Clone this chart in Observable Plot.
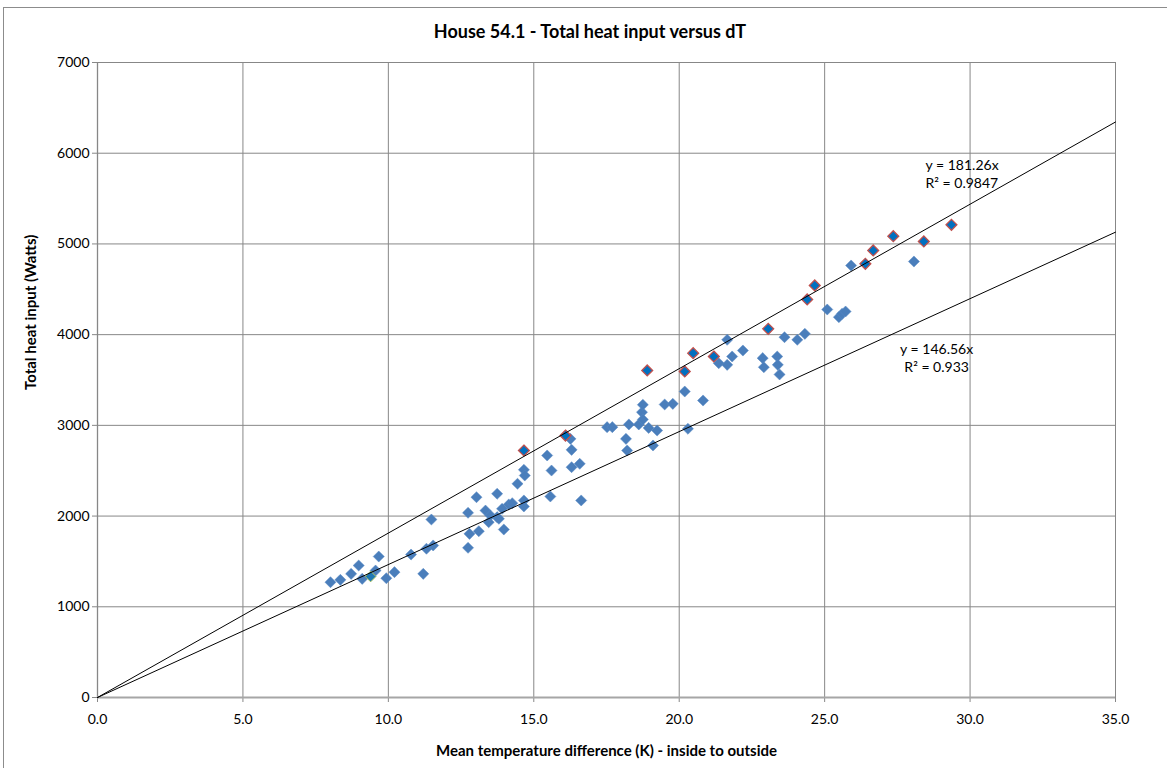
<!DOCTYPE html>
<html>
<head>
<meta charset="utf-8">
<script src="https://cdn.jsdelivr.net/npm/d3@7"></script>
<script src="https://cdn.jsdelivr.net/npm/@observablehq/plot@0.6"></script>
<style>
  html, body { margin: 0; padding: 0; background: #fff; overflow: hidden; }
  #wrap { position: relative; width: 1167px; height: 768px; overflow: hidden; background: #fff; }
  #title { width: 1180px; height: 45px; box-sizing: border-box; padding-top: 20px; line-height: 22px;
           text-align: center; font: bold 18px Lato, "Open Sans", sans-serif; color: #000; }
  #border { position: absolute; left: 3px; top: 7px; width: 1250px; height: 850px;
            border: 1px solid #8c8c8c; pointer-events: none; }
</style>
</head>
<body>
<div id="wrap">
  <div id="title">House 54.1 - Total heat input versus dT</div>
  <div id="chart"></div>
  <div id="border"></div>
</div>
<script>
// ---- data ----
const xBlue = [8.01, 8.35, 8.72, 8.98, 9.10, 9.56, 9.67, 9.93, 10.21, 10.78, 11.20, 11.31, 11.48, 11.54,
  12.74, 12.74, 12.79, 13.03, 13.11, 13.34, 13.45, 13.51, 13.74, 13.74, 13.80, 13.91, 13.97, 14.14, 14.26,
  14.44, 14.66, 14.69, 14.66, 14.66, 15.46, 15.57, 15.61, 16.26, 16.30, 16.30, 16.58, 16.63,
  17.52, 17.70, 18.17, 18.21, 18.27, 18.61, 18.72, 18.75, 18.75, 18.95, 19.10, 19.24, 19.50, 19.78,
  20.19, 20.30, 20.82, 21.36, 21.65, 21.65, 21.82, 22.19, 22.87, 22.91, 23.37, 23.39, 23.45, 23.62,
  24.06, 24.32, 25.09, 25.49, 25.60, 25.72, 25.91, 28.07];
const yBlue = [1271, 1297, 1363, 1455, 1308, 1400, 1554, 1315, 1382, 1576, 1363, 1640, 1962, 1676,
  2036, 1650, 1804, 2208, 1833, 2061, 1932, 2006, 2246, 1988, 1970, 2080, 1852, 2128, 2142,
  2356, 2510, 2447, 2172, 2106, 2668, 2216, 2502, 2851, 2730, 2539, 2576, 2172,
  2980, 2980, 2851, 2723, 3010, 3010, 3145, 3227, 3065, 2972, 2778, 2943, 3230, 3237,
  3373, 2962, 3274, 3685, 3943, 3667, 3759, 3825, 3741, 3641, 3759, 3667, 3561, 3972,
  3943, 4009, 4277, 4193, 4230, 4255, 4762, 4806];
const xRed = [14.66, 16.09, 18.90, 20.19, 20.48, 21.19, 23.06, 24.40, 24.66, 26.40, 26.67, 27.36, 28.41, 29.36];
const yRed = [2723, 2888, 3605, 3594, 3796, 3759, 4064, 4388, 4542, 4781, 4928, 5085, 5027, 5211];
const xGreen = [9.39];
const yGreen = [1334];
const xTicks = [0, 5, 10, 15, 20, 25, 30, 35];
const yTicks = [0, 1000, 2000, 3000, 4000, 5000, 6000, 7000];
const trendSlopes = [181.26, 146.56];
const trendEq = ["y = 181.26x", "y = 146.56x"];
const trendR2 = ["R² = 0.9847", "R² = 0.933"];

// ---- tables built from the arrays ----
const blue = xBlue.map((x, i) => ({x, y: yBlue[i]}));
const red = xRed.map((x, i) => ({x, y: yRed[i]}));
const green = xGreen.map((x, i) => ({x, y: yGreen[i]}));
const xMax = xTicks[xTicks.length - 1];
const trends = trendSlopes.flatMap((s, k) => [{k, x: 0, y: 0}, {k, x: xMax, y: s * xMax}]);
const labelsUpper = [
  {x: 28.47, y: 5865, t: trendEq[0]},
  {x: 28.47, y: 5666, t: trendR2[0]}
];
const labelsLower = [
  {x: 28.85, y: 3836, t: trendEq[1]},
  {x: 28.85, y: 3638, t: trendR2[1]}
];

const grid = "#878787";
const chart = Plot.plot({
  width: 1167,
  height: 723,
  marginLeft: 97,
  marginRight: 52,
  marginTop: 17,
  marginBottom: 71,
  style: {fontFamily: "Lato, 'Open Sans', sans-serif", color: "#000", background: "transparent"},
  x: {domain: [0, 35]},
  y: {domain: [0, 7000]},
  marks: [
    Plot.gridX(xTicks.slice(1), {stroke: grid, strokeOpacity: 1}),
    Plot.gridY(yTicks.slice(1), {stroke: grid, strokeOpacity: 1}),
    Plot.ruleX([0], {stroke: grid, strokeWidth: 1.3}),
    Plot.axisY({ticks: yTicks, tickSize: 5, tickPadding: 3, stroke: grid, fill: "#000", fontSize: 14, label: null, tickFormat: d3.format("d")}),
    Plot.axisX({ticks: xTicks, tickSize: 5, tickPadding: 12, stroke: grid, fill: "#000", fontSize: 14, label: null, tickFormat: d3.format(".1f")}),
    Plot.ruleY([0], {stroke: "#a6a6a6", strokeWidth: 2}),
    Plot.dot(blue, {x: "x", y: "y", symbol: "diamond2", r: 5, fill: "#4a7ebb", stroke: "#5a8ac4", strokeWidth: 0.5}),
    Plot.dot(green, {x: "x", y: "y", symbol: "diamond2", r: 4.8, fill: "#1f78b4", stroke: "#9bbb59", strokeWidth: 1}),
    Plot.dot(red, {x: "x", y: "y", symbol: "diamond2", r: 4.9, fill: "#0070c0", stroke: "#c0504d", strokeWidth: 1.3}),
    Plot.line(trends, {x: "x", y: "y", z: "k", stroke: "#000", strokeWidth: 1}),
    Plot.text(labelsUpper, {x: "x", y: "y", text: "t", textAnchor: "start", fontSize: 14, fill: "#000"}),
    Plot.text(labelsLower, {x: "x", y: "y", text: "t", textAnchor: "middle", fontSize: 14, fill: "#000"}),
    Plot.text(["Mean temperature difference (K) - inside to outside"], {frameAnchor: "bottom", dy: 58, fontSize: 15, fontWeight: "bold", fill: "#000"}),
    Plot.text(["Total heat input (Watts)"], {frameAnchor: "left", dx: -66, dy: 10, rotate: -90, fontSize: 15, fontWeight: "bold", fill: "#000"})
  ]
});
document.getElementById("chart").appendChild(chart);
</script>
</body>
</html>
